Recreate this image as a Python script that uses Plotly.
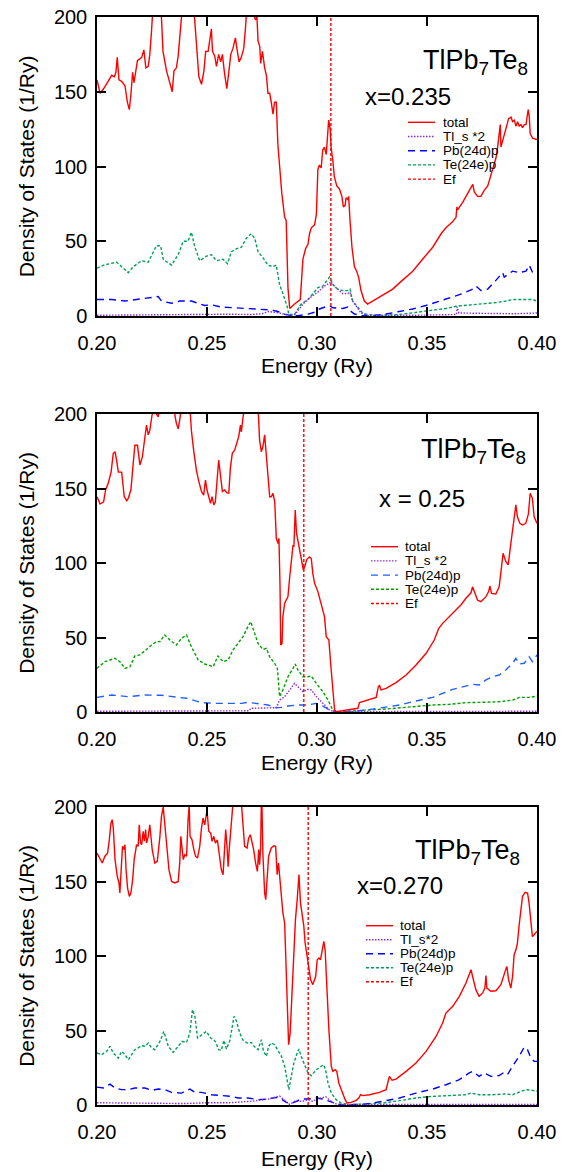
import plotly.graph_objects as go

FONT = "Liberation Sans, Arial, Helvetica, sans-serif"

# ---------------- data ----------------
series_names = [["total", "Tl_s *2", "Pb(24d)p", "Te(24e)p", "Ef"],
                ["total", "Tl_s *2", "Pb(24d)p", "Te(24e)p", "Ef"],
                ["total", "Tl_s*2", "Pb(24d)p", "Te(24e)p", "Ef"]]
compositions = ["x=0.235", "x = 0.25", "x=0.270"]
compound = "TlPb<sub>7</sub>Te<sub>8</sub>"
fermi_energy = [0.3063, 0.2940, 0.2960]
x_ticks = [0.20, 0.25, 0.30, 0.35, 0.40]
y_ticks = [0, 50, 100, 150, 200]

# ---- panel 1 (x=0.235) ----
p1_total_e = [0.2000, 0.2014, 0.2030, 0.2050, 0.2067, 0.2079, 0.2086, 0.2092, 0.2100, 0.2112, 0.2127, 0.2138,
              0.2147, 0.2154, 0.2162, 0.2168, 0.2177, 0.2184, 0.2195, 0.2203, 0.2213, 0.2222, 0.2233, 0.2240,
              0.2248, 0.2255, 0.2262, 0.2285, 0.2293, 0.2300, 0.2316, 0.2330, 0.2342, 0.2350, 0.2361, 0.2369,
              0.2376, 0.2387, 0.2395, 0.2435, 0.2442, 0.2453, 0.2463, 0.2475, 0.2486, 0.2494, 0.2505, 0.2513,
              0.2520, 0.2525, 0.2535, 0.2543, 0.2553, 0.2562, 0.2570, 0.2580, 0.2590, 0.2599, 0.2608, 0.2618,
              0.2629, 0.2638, 0.2646, 0.2656, 0.2667, 0.2674, 0.2679, 0.2690, 0.2708, 0.2714, 0.2720, 0.2727,
              0.2732, 0.2740, 0.2744, 0.2752, 0.2762, 0.2770, 0.2777, 0.2785, 0.2792, 0.2800, 0.2807, 0.2815,
              0.2822, 0.2830, 0.2840, 0.2853, 0.2860, 0.2868, 0.2876, 0.2898, 0.2924, 0.2936, 0.2948, 0.2959,
              0.2966, 0.2974, 0.2989, 0.2997, 0.3004, 0.3011, 0.3019, 0.3026, 0.3034, 0.3042, 0.3049, 0.3053,
              0.3060, 0.3064, 0.3072, 0.3079, 0.3090, 0.3102, 0.3113, 0.3120, 0.3128, 0.3132, 0.3140, 0.3144,
              0.3150, 0.3159, 0.3170, 0.3180, 0.3189, 0.3200, 0.3215, 0.3230, 0.3253, 0.3298, 0.3344, 0.3389,
              0.3435, 0.3480, 0.3526, 0.3564, 0.3586, 0.3616, 0.3632, 0.3636, 0.3639, 0.3662, 0.3685, 0.3700,
              0.3708, 0.3715, 0.3730, 0.3745, 0.3760, 0.3776, 0.3814, 0.3821, 0.3829, 0.3833, 0.3836, 0.3844,
              0.3851, 0.3859, 0.3871, 0.3882, 0.3889, 0.3897, 0.3904, 0.3912, 0.3919, 0.3927, 0.3934, 0.3942,
              0.3950, 0.3960, 0.3965, 0.3969, 0.3980, 0.4000]
p1_total = [158, 149, 152, 157, 161, 160, 163, 173, 158, 157, 154, 143,
            138, 148, 163, 156, 164, 171, 172, 173, 178, 166, 167, 175,
            191, 205, 225, 225, 202, 177, 164, 156, 150, 164, 166, 174,
            184, 205, 225, 225, 202, 177, 160, 155, 164, 177, 177, 185,
            192, 177, 174, 167, 175, 170, 175, 162, 152, 163, 175, 179,
            186, 177, 170, 173, 179, 191, 205, 225, 225, 202, 198, 200,
            184, 180, 169, 177, 166, 161, 149, 149, 143, 135, 143, 143,
            115, 99, 82, 66, 64, 19, 5, 8, 11, 38, 45, 48,
            55, 59, 61, 68, 98, 101, 99, 111, 113, 108, 122, 131,
            125, 113, 104, 93, 87, 85, 80, 73, 74, 79, 78, 80,
            64, 46, 33, 30, 26, 17, 10, 8, 10, 14, 18, 24,
            30, 38, 46, 55, 59, 63, 66, 73, 71, 76, 82, 86,
            88, 83, 80, 80, 84, 87, 106, 113, 125, 128, 113, 117,
            122, 126, 132, 133, 130, 131, 127, 130, 127, 128, 126, 128,
            128, 138, 133, 122, 119, 118]
p1_tl_e = [0.2000, 0.2200, 0.2400, 0.2500, 0.2600, 0.2700, 0.2750, 0.2780, 0.2830, 0.2875, 0.2900, 0.2936,
           0.2966, 0.3004, 0.3034, 0.3057, 0.3062, 0.3079, 0.3100, 0.3117, 0.3140, 0.3150, 0.3162, 0.3180,
           0.3200, 0.3230, 0.3300, 0.3450, 0.3634, 0.3637, 0.3645, 0.3800, 0.3900, 0.4000]
p1_tl = [0.5, 0.8, 1.0, 1.5, 1.2, 1.0, 1.5, 3.0, 2.0, 0.2, 1.0, 8,
         12, 16, 20, 22, 23, 20, 17, 15, 15, 16, 10, 6,
         2, 0.3, 0.3, 0.5, 1.0, 6.0, 2.0, 1.5, 1.5, 2.0]
p1_pb_e = [0.2000, 0.2067, 0.2127, 0.2172, 0.2233, 0.2278, 0.2293, 0.2339, 0.2376, 0.2429, 0.2460, 0.2490,
           0.2520, 0.2565, 0.2626, 0.2686, 0.2747, 0.2792, 0.2822, 0.2853, 0.2883, 0.2913, 0.2959, 0.2989,
           0.3011, 0.3042, 0.3057, 0.3072, 0.3117, 0.3140, 0.3147, 0.3170, 0.3207, 0.3253, 0.3314, 0.3374,
           0.3435, 0.3495, 0.3556, 0.3616, 0.3662, 0.3708, 0.3723, 0.3745, 0.3776, 0.3814, 0.3844, 0.3851,
           0.3889, 0.3919, 0.3950, 0.3965, 0.3980, 0.4000]
p1_pb = [11, 11, 10, 11, 12, 13, 10, 8.5, 10, 10, 8.5, 7,
         7.5, 6, 5.5, 5, 4.7, 4, 3, 1.3, 0.2, 0.2, 1.3, 2.5,
         4.7, 6, 7, 5.5, 5, 6, 4, 1.3, 0.2, 0.2, 1.3, 3,
         4.7, 7, 10, 12.5, 15, 18, 20, 17, 18, 24, 29, 26,
         30, 29, 30, 34, 29, 28]
p1_te_e = [0.2000, 0.2030, 0.2059, 0.2089, 0.2112, 0.2142, 0.2165, 0.2203, 0.2233, 0.2255, 0.2270, 0.2289,
           0.2301, 0.2339, 0.2369, 0.2392, 0.2414, 0.2429, 0.2445, 0.2467, 0.2497, 0.2520, 0.2543, 0.2573,
           0.2593, 0.2611, 0.2634, 0.2656, 0.2679, 0.2701, 0.2717, 0.2732, 0.2754, 0.2777, 0.2800, 0.2815,
           0.2830, 0.2845, 0.2865, 0.2872, 0.2898, 0.2928, 0.2959, 0.2982, 0.3004, 0.3026, 0.3049, 0.3057,
           0.3072, 0.3094, 0.3117, 0.3140, 0.3150, 0.3162, 0.3185, 0.3207, 0.3230, 0.3283, 0.3374, 0.3450,
           0.3526, 0.3586, 0.3632, 0.3677, 0.3723, 0.3768, 0.3814, 0.3859, 0.3889, 0.3934, 0.3980, 0.4000]
p1_te = [32, 34, 35, 36, 33, 29, 33, 37, 36, 43, 47, 47,
         38, 34, 41, 50, 50, 56, 46, 37, 40, 41, 37, 38,
         35, 43, 45, 46, 52, 55, 52, 43, 39, 34, 33, 34,
         21, 15, 6, 1, 1, 8, 11, 15, 19, 20, 24, 26,
         21, 18, 17, 17, 18, 10, 6, 2, 1, 0.5, 1, 2.5,
         4, 5, 6.5, 7, 8, 8.5, 9, 10, 11, 11, 11, 10]

# ---- panel 2 (x=0.25) ----
p2_total_e = [0.2000, 0.2014, 0.2030, 0.2039, 0.2051, 0.2064, 0.2074, 0.2082, 0.2089, 0.2097, 0.2112, 0.2124,
              0.2135, 0.2142, 0.2154, 0.2165, 0.2172, 0.2184, 0.2195, 0.2206, 0.2215, 0.2225, 0.2233, 0.2240,
              0.2251, 0.2260, 0.2270, 0.2278, 0.2286, 0.2295, 0.2345, 0.2354, 0.2361, 0.2369, 0.2376, 0.2384,
              0.2392, 0.2415, 0.2422, 0.2429, 0.2440, 0.2452, 0.2463, 0.2475, 0.2485, 0.2493, 0.2500, 0.2508,
              0.2516, 0.2523, 0.2531, 0.2538, 0.2546, 0.2553, 0.2562, 0.2570, 0.2580, 0.2591, 0.2599, 0.2606,
              0.2615, 0.2626, 0.2637, 0.2644, 0.2652, 0.2656, 0.2664, 0.2671, 0.2680, 0.2725, 0.2732, 0.2739,
              0.2747, 0.2754, 0.2762, 0.2770, 0.2777, 0.2785, 0.2792, 0.2800, 0.2808, 0.2815, 0.2823, 0.2827,
              0.2832, 0.2835, 0.2841, 0.2845, 0.2853, 0.2868, 0.2876, 0.2883, 0.2891, 0.2895, 0.2901, 0.2907,
              0.2916, 0.2928, 0.2938, 0.2944, 0.2954, 0.2966, 0.2974, 0.2981, 0.2989, 0.3004, 0.3012, 0.3024,
              0.3034, 0.3042, 0.3054, 0.3062, 0.3072, 0.3080, 0.3087, 0.3133, 0.3186, 0.3193, 0.3223, 0.3246,
              0.3269, 0.3279, 0.3284, 0.3291, 0.3314, 0.3359, 0.3405, 0.3450, 0.3496, 0.3533, 0.3553, 0.3571,
              0.3601, 0.3632, 0.3654, 0.3677, 0.3700, 0.3707, 0.3715, 0.3730, 0.3745, 0.3768, 0.3780, 0.3786,
              0.3793, 0.3813, 0.3828, 0.3839, 0.3846, 0.3858, 0.3869, 0.3881, 0.3896, 0.3904, 0.3911, 0.3922,
              0.3934, 0.3949, 0.3961, 0.3969, 0.3979, 0.3987, 0.4000]
p2_total = [144.5, 139.6, 141, 149, 153.5, 161, 173.6, 174.7, 169, 161, 161, 144.5,
            141.8, 143.4, 149, 164.6, 179, 179, 165.8, 171, 182.5, 192.6, 186, 189,
            200, 205, 200, 198, 205, 225, 225, 199, 193.7, 190, 196, 205,
            225, 225, 205, 189, 174.7, 162, 154.6, 148, 145.6, 155.7, 149, 143.4,
            140, 144.5, 139, 141, 154.6, 169, 158, 148, 149, 147, 146.8, 163.5,
            173.6, 175.8, 181.4, 184.8, 192.6, 188, 198, 205, 225, 225, 205, 182.5,
            174.7, 178, 186, 171.4, 163.5, 144.5, 144.5, 146.8, 141, 116.6, 113, 116.6,
            84, 45, 46, 64, 73, 77.4, 90.8, 99.8, 112, 111, 135.6, 120,
            113, 104, 95.3, 97.5, 102.5, 104, 103, 93, 86.4, 80.8, 76, 70.7,
            64, 50.6, 48.3, 32.7, 12.5, 1.3, 0.2, 1.3, 2.5, 6.3, 7.6, 8.5,
            9.8, 17, 18, 14.8, 15.9, 19.7, 24.8, 31.5, 39.4, 48.3, 56, 59.5,
            64, 68.5, 71.8, 76.3, 80, 84, 80.8, 75, 74, 77.4, 80.8, 84.6,
            79.6, 79.2, 84, 99.8, 106.5, 101, 98.7, 113, 131, 139, 131, 126.6,
            125.5, 126.6, 133, 146.8, 143.4, 131, 126.6]
p2_tl_e = [0.2000, 0.2200, 0.2400, 0.2600, 0.2690, 0.2700, 0.2777, 0.2815, 0.2830, 0.2853, 0.2876, 0.2898,
           0.2913, 0.2936, 0.2959, 0.2974, 0.2997, 0.3027, 0.3057, 0.3080, 0.3500, 0.4000]
p2_tl = [0.5, 0.5, 1.0, 0.5, 0.8, 2.5, 2.5, 2.9, 8, 10.3, 14.8, 19.2,
         17, 13.6, 15.2, 14.8, 10.3, 5.8, 1.3, 0.2, 0.3, 0.5]
p2_pb_e = [0.2000, 0.2067, 0.2142, 0.2218, 0.2293, 0.2354, 0.2407, 0.2475, 0.2535, 0.2596, 0.2656, 0.2686,
           0.2732, 0.2777, 0.2815, 0.2838, 0.2868, 0.2913, 0.2959, 0.2997, 0.3027, 0.3057, 0.3080, 0.3148,
           0.3223, 0.3299, 0.3375, 0.3450, 0.3526, 0.3571, 0.3617, 0.3677, 0.3707, 0.3737, 0.3768, 0.3798,
           0.3828, 0.3858, 0.3889, 0.3904, 0.3919, 0.3942, 0.3964, 0.3979, 0.4000]
p2_pb = [9.8, 11.4, 10.3, 11.4, 11.2, 10.3, 9.2, 6.3, 5.8, 5.8, 5.8, 6.5,
         5.8, 4.7, 2.9, 3.1, 4, 4.7, 4.7, 5.8, 4, 1.3, 0, 0.2,
         1.3, 2.9, 4.7, 7.4, 9.8, 12.5, 15.2, 17.4, 18.6, 18.1, 21.5, 23.7,
         24.8, 28.2, 32.7, 36, 32.2, 32.7, 37.1, 33.8, 38.3]
p2_te_e = [0.2000, 0.2036, 0.2082, 0.2104, 0.2127, 0.2150, 0.2172, 0.2195, 0.2225, 0.2248, 0.2271, 0.2286,
           0.2308, 0.2331, 0.2361, 0.2384, 0.2407, 0.2429, 0.2460, 0.2490, 0.2528, 0.2550, 0.2573, 0.2596,
           0.2618, 0.2641, 0.2664, 0.2686, 0.2699, 0.2714, 0.2732, 0.2754, 0.2770, 0.2785, 0.2807, 0.2820,
           0.2830, 0.2845, 0.2868, 0.2891, 0.2901, 0.2913, 0.2936, 0.2959, 0.2974, 0.2997, 0.3027, 0.3050,
           0.3072, 0.3087, 0.3148, 0.3223, 0.3299, 0.3375, 0.3450, 0.3526, 0.3601, 0.3677, 0.3753, 0.3828,
           0.3889, 0.3919, 0.3964, 0.4000]
p2_te = [29.3, 33.8, 36, 33.8, 29.3, 30.4, 37.6, 38.3, 42, 45, 47.2, 47.2,
         51.7, 48.3, 45, 49.4, 51.7, 43.8, 34.9, 32.2, 30.4, 37.6, 33.8, 34.9,
         41.6, 46, 50.6, 57.3, 60.6, 54, 46, 42, 42.7, 37, 32.7, 29.3,
         10.3, 14.8, 23.7, 29.3, 32.2, 28.2, 23.7, 23.7, 24.2, 19.2, 13.6, 8,
         1.3, 0, 0.7, 1.3, 1.8, 2.9, 4, 4.7, 5.1, 6.3, 6.5, 6.9,
         8, 9.8, 9.8, 10.7]

# ---- panel 3 (x=0.270) ----
p3_total_e = [0.2000, 0.2014, 0.2024, 0.2036, 0.2048, 0.2056, 0.2063, 0.2069, 0.2074, 0.2082, 0.2092, 0.2100,
              0.2104, 0.2112, 0.2116, 0.2122, 0.2127, 0.2132, 0.2139, 0.2147, 0.2154, 0.2162, 0.2169, 0.2180,
              0.2187, 0.2192, 0.2198, 0.2203, 0.2210, 0.2215, 0.2221, 0.2225, 0.2233, 0.2240, 0.2251, 0.2263,
              0.2274, 0.2286, 0.2293, 0.2301, 0.2308, 0.2316, 0.2327, 0.2339, 0.2354, 0.2369, 0.2376, 0.2381,
              0.2387, 0.2392, 0.2399, 0.2407, 0.2414, 0.2419, 0.2423, 0.2432, 0.2440, 0.2448, 0.2457, 0.2467,
              0.2475, 0.2482, 0.2490, 0.2494, 0.2500, 0.2508, 0.2517, 0.2523, 0.2531, 0.2538, 0.2547, 0.2558,
              0.2565, 0.2573, 0.2580, 0.2585, 0.2591, 0.2596, 0.2602, 0.2608, 0.2614, 0.2618, 0.2625, 0.2650,
              0.2656, 0.2664, 0.2671, 0.2682, 0.2689, 0.2697, 0.2705, 0.2712, 0.2721, 0.2729, 0.2735, 0.2739,
              0.2744, 0.2748, 0.2754, 0.2762, 0.2767, 0.2773, 0.2780, 0.2792, 0.2804, 0.2812, 0.2819, 0.2825,
              0.2830, 0.2835, 0.2845, 0.2853, 0.2857, 0.2860, 0.2865, 0.2871, 0.2878, 0.2886, 0.2895, 0.2902,
              0.2910, 0.2918, 0.2925, 0.2933, 0.2940, 0.2946, 0.2954, 0.2962, 0.2971, 0.2981, 0.2994, 0.3001,
              0.3009, 0.3016, 0.3024, 0.3031, 0.3037, 0.3045, 0.3054, 0.3065, 0.3072, 0.3083, 0.3090, 0.3099,
              0.3110, 0.3118, 0.3128, 0.3136, 0.3155, 0.3178, 0.3190, 0.3198, 0.3208, 0.3239, 0.3284, 0.3314,
              0.3322, 0.3329, 0.3341, 0.3359, 0.3405, 0.3450, 0.3496, 0.3541, 0.3571, 0.3586, 0.3617, 0.3647,
              0.3677, 0.3692, 0.3700, 0.3707, 0.3722, 0.3737, 0.3753, 0.3763, 0.3768, 0.3772, 0.3790, 0.3813,
              0.3836, 0.3855, 0.3863, 0.3871, 0.3881, 0.3889, 0.3896, 0.3904, 0.3911, 0.3919, 0.3926, 0.3934,
              0.3946, 0.3957, 0.3964, 0.3972, 0.3979, 0.3987, 0.4000]
p3_total = [169, 164.7, 162.4, 167, 169, 178, 189, 191.5, 186, 164.7, 153.5, 149,
            142.3, 163.5, 173.6, 171.4, 174.7, 158, 145.6, 140, 142.3, 151.2, 164.7, 174.7,
            173.6, 188, 175.8, 174.7, 183.7, 177, 184.8, 175.8, 180.3, 188, 171.4, 162.4,
            163.5, 180.3, 193.7, 200, 189, 173.6, 158, 150, 149, 150, 162.4, 180.3,
            169, 164.7, 168, 167, 191.5, 201, 180.3, 178, 171.4, 167, 165.8, 173.6,
            186, 192.6, 188, 193.7, 198, 183.7, 182.5, 177, 180.3, 175.8, 178, 165.8,
            158, 154.6, 169, 184.8, 173.6, 160, 173.6, 182.5, 193.7, 200, 215, 215,
            202, 182.5, 173.6, 172.5, 179, 181.4, 175.8, 171.4, 162.4, 156.8, 171.4, 161.3,
            173.6, 215, 169, 142.3, 137.8, 149, 167, 172.5, 174, 173.6, 154.6, 162.4,
            154.6, 143.4, 128.9, 122, 102, 101, 64, 40.5, 48.3, 73, 104, 124.4,
            137.8, 154.6, 135.6, 126.6, 120, 108.7, 99.8, 90.8, 84, 80.8, 86.4, 97.5,
            98.7, 97.5, 104, 109.8, 104, 73, 50.6, 26, 22.6, 23.7, 22.6, 14.8,
            10.3, 6.9, 3.6, 1.3, 1.8, 3.1, 4.7, 6.9, 6.3, 6.9, 8.5, 10.3,
            14.8, 19.2, 16.6, 17.4, 22.6, 28.2, 36, 46, 55, 61.7, 66.2, 72.9,
            81.9, 87.5, 90.8, 86.4, 77.4, 72.9, 75.2, 78.5, 86.8, 78.5, 76.3, 76.7,
            80.8, 89.7, 93, 84, 78.5, 86.4, 100.9, 104, 108.7, 121, 131, 140,
            142.7, 142.3, 135.6, 120, 113, 114.3, 116.6]
p3_tl_e = [0.2000, 0.2200, 0.2400, 0.2500, 0.2600, 0.2700, 0.2780, 0.2830, 0.2845, 0.2875, 0.2900, 0.2935,
           0.2960, 0.2980, 0.3000, 0.3040, 0.3060, 0.3080, 0.3100, 0.3500, 0.4000]
p3_tl = [1.5, 1.0, 1.0, 1.5, 1.5, 2.5, 4, 6, 4, 0.5, 2.5, 2.5,
         3.5, 2.5, 4, 5.5, 3, 1, 0.3, 0.2, 0.3]
p3_pb_e = [0.2000, 0.2029, 0.2059, 0.2082, 0.2112, 0.2142, 0.2172, 0.2218, 0.2248, 0.2278, 0.2308, 0.2339,
           0.2384, 0.2422, 0.2445, 0.2475, 0.2520, 0.2565, 0.2611, 0.2641, 0.2686, 0.2732, 0.2777, 0.2815,
           0.2838, 0.2860, 0.2883, 0.2906, 0.2928, 0.2959, 0.2997, 0.3027, 0.3057, 0.3087, 0.3118, 0.3223,
           0.3299, 0.3375, 0.3450, 0.3526, 0.3586, 0.3647, 0.3692, 0.3707, 0.3737, 0.3760, 0.3790, 0.3828,
           0.3850, 0.3866, 0.3889, 0.3919, 0.3942, 0.3957, 0.3972, 0.3987, 0.4000]
p3_pb = [12, 11.4, 14, 11.4, 10.3, 10.3, 11.4, 11.4, 9.8, 10.7, 10.3, 8.5,
         8, 10.7, 8.5, 8.5, 6.9, 6.3, 5.8, 4.7, 4.7, 3.6, 4, 5.1,
         4, 1.8, 0.9, 2.5, 4, 4, 4.7, 4, 2.5, 0.9, 0, 0.7,
         2.5, 4.7, 8, 10.7, 13.6, 17, 21.5, 22.6, 19.2, 21.5, 19.2, 19.7,
         21.9, 20.4, 26, 32.7, 38.9, 37.1, 31.5, 29.3, 29.3]
p3_te_e = [0.2000, 0.2021, 0.2044, 0.2059, 0.2074, 0.2097, 0.2112, 0.2127, 0.2142, 0.2157, 0.2172, 0.2187,
           0.2203, 0.2218, 0.2233, 0.2248, 0.2263, 0.2286, 0.2304, 0.2324, 0.2346, 0.2369, 0.2387, 0.2407,
           0.2422, 0.2434, 0.2445, 0.2457, 0.2475, 0.2497, 0.2517, 0.2538, 0.2553, 0.2565, 0.2577, 0.2588,
           0.2603, 0.2614, 0.2623, 0.2634, 0.2649, 0.2664, 0.2683, 0.2702, 0.2714, 0.2732, 0.2747, 0.2757,
           0.2770, 0.2780, 0.2792, 0.2807, 0.2822, 0.2838, 0.2853, 0.2865, 0.2872, 0.2883, 0.2895, 0.2910,
           0.2918, 0.2928, 0.2943, 0.2959, 0.2974, 0.2997, 0.3019, 0.3030, 0.3039, 0.3050, 0.3065, 0.3087,
           0.3110, 0.3148, 0.3223, 0.3299, 0.3375, 0.3450, 0.3526, 0.3601, 0.3677, 0.3700, 0.3737, 0.3798,
           0.3859, 0.3889, 0.3919, 0.3949, 0.3979, 0.4000]
p3_te = [34.9, 33.8, 36, 39.4, 34.9, 31.5, 36, 33.8, 30.4, 33.8, 37.1, 38.3,
         39.8, 39.4, 41.6, 38.3, 37.1, 42.7, 49.4, 39.4, 35.3, 39.4, 42.7, 42,
         48.3, 64, 59.5, 45, 47.2, 49.4, 45, 42.7, 37.1, 36.7, 43.4, 37.6,
         42.7, 50.6, 59.5, 56.2, 48.3, 43.4, 41.6, 42, 39.4, 37.1, 43.8, 36,
         32.7, 39.4, 41.6, 40.5, 37.1, 32.7, 26, 17, 10.3, 19.2, 28.2, 34.9,
         37.6, 32.7, 27, 21.5, 19.7, 23.7, 26, 27, 23.7, 14.8, 8, 3.6,
         1.3, 0.2, 0.7, 1.3, 2.9, 4.7, 5.8, 6.5, 6.9, 8, 6.9, 6.9,
         7.4, 6.9, 8.5, 10.3, 9.8, 9.2]

panels = [
    dict(total=(p1_total_e, p1_total), tl=(p1_tl_e, p1_tl), pb=(p1_pb_e, p1_pb), te=(p1_te_e, p1_te)),
    dict(total=(p2_total_e, p2_total), tl=(p2_tl_e, p2_tl), pb=(p2_pb_e, p2_pb), te=(p2_te_e, p2_te)),
    dict(total=(p3_total_e, p3_total), tl=(p3_tl_e, p3_tl), pb=(p3_pb_e, p3_pb), te=(p3_te_e, p3_te)),
]

# ---------------- styles / geometry (page pixels; body margin removed after plotting) ----------------
W, H = 570, 1172
plot_left, plot_right = 97, 537
tops = [17, 414, 807]
bottoms = [316, 712, 1105]
ML = plot_left
MR = W - plot_right
MT = tops[0]
MB = H - bottoms[-1]
paper_h = bottoms[-1] - tops[0]

red = "#ff0000"
purple = "#8a2be2"
blues = ["#0000ff", "#1f5fff", "#0000ff"]
greens = ["#00a05a", "#00a000", "#00a05a"]

title_pos = [(530, 62), (528, 451), (522, 852)]
comp_pos = [(363, 96.5), (377, 498.5), (355, 885)]
legend_geo = [(408, 435, 441, 122.3, 14.2), (371, 398, 403, 546.7, 14.2), (366, 393, 398, 925.7, 14.0)]
xtitle_standoff = [6, 7, 10]


def dom(i, px, py):
    return (px - plot_left) / (plot_right - plot_left), (bottoms[i] - py) / (bottoms[i] - tops[i])


fig = go.Figure()
annotations = []
shapes = []
LW = 1.4

for i, p in enumerate(panels):
    n = "" if i == 0 else str(i + 1)
    xr, yr = "x" + n, "y" + n
    styles = [
        ("total", dict(color=red, width=LW, dash="solid")),
        ("tl", dict(color=purple, width=LW, dash="1.5px,1.5px")),
        ("pb", dict(color=blues[i], width=LW, dash="7px,5px")),
        ("te", dict(color=greens[i], width=LW, dash="3px,2px")),
    ]
    for key, line in [styles[3], styles[2], styles[1], styles[0]]:
        e, d = p[key]
        fig.add_trace(go.Scatter(x=e, y=d, mode="lines", line=line, xaxis=xr, yaxis=yr,
                                 showlegend=False, hoverinfo="skip"))
    ef_line = dict(color=red, width=LW, dash="3px,2px")
    fig.add_trace(go.Scatter(x=[fermi_energy[i], fermi_energy[i]], y=[y_ticks[0], y_ticks[-1]], mode="lines",
                             line=ef_line, xaxis=xr, yaxis=yr, showlegend=False, hoverinfo="skip"))

    # compact legend like the original
    lines = [styles[0][1], styles[1][1], styles[2][1], styles[3][1], ef_line]
    sx0, sx1, tx, y0, dy = legend_geo[i]
    for k, (name, ln) in enumerate(zip(series_names[i], lines)):
        py = y0 + k * dy
        a0, b0 = dom(i, sx0, py)
        a1, _ = dom(i, sx1, py)
        shapes.append(dict(type="line", xref=xr + " domain", yref=yr + " domain", x0=a0, x1=a1, y0=b0, y1=b0,
                           line=dict(color=ln["color"], width=LW, dash=ln["dash"])))
        at, bt = dom(i, tx, py)
        annotations.append(dict(text=name, xref=xr + " domain", yref=yr + " domain", x=at, y=bt,
                                xanchor="left", yanchor="middle", showarrow=False,
                                font=dict(family=FONT, size=13.5, color="black")))
    tx_, ty_ = dom(i, *title_pos[i])
    annotations.append(dict(text=compound, xref=xr + " domain", yref=yr + " domain", x=tx_, y=ty_,
                            xanchor="right", yanchor="middle", showarrow=False,
                            font=dict(family=FONT, size=27, color="black")))
    cx_, cy_ = dom(i, *comp_pos[i])
    annotations.append(dict(text=compositions[i], xref=xr + " domain", yref=yr + " domain", x=cx_, y=cy_,
                            xanchor="left", yanchor="middle", showarrow=False,
                            font=dict(family=FONT, size=24, color="black")))

axis_common = dict(showline=True, mirror="ticks", linecolor="black", linewidth=1.5,
                   ticks="inside", ticklen=9, tickwidth=1.5, tickcolor="black",
                   showgrid=False, zeroline=False, automargin=False, ticklabeloverflow="allow",
                   tickfont=dict(family=FONT, size=20, color="black"))

layout = dict(template="none", width=W, height=H, margin=dict(l=ML, r=MR, t=MT, b=MB, autoexpand=False),
              paper_bgcolor="white", plot_bgcolor="white",
              font=dict(family=FONT, color="black"),
              annotations=annotations, shapes=shapes, showlegend=False)

for i in range(3):
    n = "" if i == 0 else str(i + 1)
    d0 = (bottoms[-1] - bottoms[i]) / paper_h
    d1 = (bottoms[-1] - tops[i]) / paper_h
    layout["xaxis" + n] = dict(axis_common, domain=[0, 1], range=[x_ticks[0], x_ticks[-1]],
                               tickvals=x_ticks, ticktext=[f"{v:.2f}" for v in x_ticks],
                               anchor="y" + n, ticklabelstandoff=8,
                               title=dict(text="Energy (Ry)", font=dict(family=FONT, size=21),
                                          standoff=xtitle_standoff[i]))
    layout["yaxis" + n] = dict(axis_common, domain=[max(0, d0), min(1, d1)], range=[y_ticks[0], y_ticks[-1]],
                               tickvals=y_ticks, anchor="x" + n, ticklabelstandoff=4,
                               title=dict(text="Density of States (1/Ry)", font=dict(family=FONT, size=21),
                                          standoff=14))

fig.update_layout(**layout)
fig.write_html("out.html", config={"displayModeBar": False},
               post_script="document.body.style.margin='0px';")
